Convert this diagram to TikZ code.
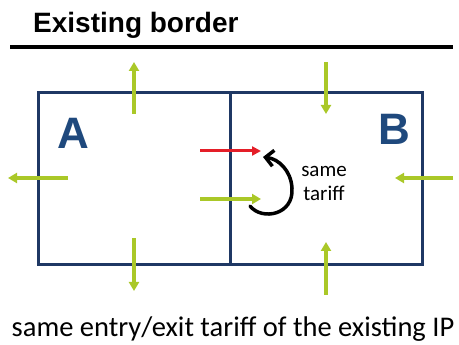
\documentclass[tikz,border=0pt]{standalone}
\usepackage{fontspec}
\setmainfont{Carlito}
\newfontfamily\headfont{Liberation Sans}
\usetikzlibrary{arrows.meta}
\definecolor{navy}{RGB}{31,56,100}
\definecolor{letterblue}{RGB}{31,73,125}
\definecolor{flowgreen}{RGB}{170,200,40}
\definecolor{flowred}{RGB}{228,30,40}
\tikzset{
  area/.style={draw=navy, line width=3pt, inner sep=0pt, minimum width=192pt, minimum height=172pt},
  flow/.style={draw=flowgreen, line width=3.5pt, -{Triangle[length=9pt,width=10pt]}},
  letter/.style={text=letterblue, font=\headfont\bfseries\fontsize{44}{44}\selectfont, inner sep=0pt}
}
\begin{document}
\begin{tikzpicture}[x=1pt,y=-1pt]
      \useasboundingbox (0,0) rectangle (459,345);
      \node[anchor=base west, inner sep=0pt, font=\headfont\bfseries\fontsize{28}{28}\selectfont] (title) at (33,33) {Existing border};
      \coordinate (rulel) at (10,47);
      \coordinate (ruler) at (453,47);
      \draw [line width=3.5pt] (rulel) -- (ruler);
      % the two areas
      \node[area] (areaa) at (134,179) {};
      \node[area] (areab) at (326,179) {};
      \node[letter] (a) at (73,133) {A};
      \node[letter] (b) at (394,129) {B};
      % flows across the outer borders
      \coordinate (tla) at (134,114); \coordinate (tlb) at (134,62);
      \coordinate (tra) at (326,62);  \coordinate (trb) at (326,114);
      \coordinate (bla) at (134,238); \coordinate (blb) at (134,291);
      \coordinate (bra) at (326,295); \coordinate (brb) at (326,242);
      \coordinate (lfa) at (68,178);  \coordinate (lfb) at (8,178);
      \coordinate (rta) at (453,178); \coordinate (rtb) at (395,178);
      \draw [flow] (tla) -- (tlb);
      \draw [flow] (tra) -- (trb);
      \draw [flow] (bla) -- (blb);
      \draw [flow] (bra) -- (brb);
      \draw [flow] (lfa) -- (lfb);
      \draw [flow] (rta) -- (rtb);
      % flows across the existing border
      \coordinate (reda) at (200,151); \coordinate (redb) at (261,151);
      \coordinate (grna) at (200,199); \coordinate (grnb) at (261,199);
      \draw [flow, draw=flowred, line width=3pt, -{Triangle[length=9pt,width=9pt]}] (reda) -- (redb);
      \draw [flow] (grna) -- (grnb);
      \coordinate (turna) at (250,206);
      \coordinate (turnb) at (263,157);
      \draw [line width=3.5pt, line cap=round, -{Straight Barb[length=8pt,width=16pt,line width=3.5pt]}]
        (turna) .. controls (262,221) and (294,215) .. (292,188)
        .. controls (291,171) and (279,159) .. (turnb);
      \node[align=center, font=\fontsize{21}{24}\selectfont] (same) at (324,183) {same\\tariff};
      \node[anchor=base, inner sep=0pt, font=\fontsize{28.5}{28.5}\selectfont] (note) at (233,337) {same entry/exit tariff of the existing IP};
\end{tikzpicture}
\end{document}
